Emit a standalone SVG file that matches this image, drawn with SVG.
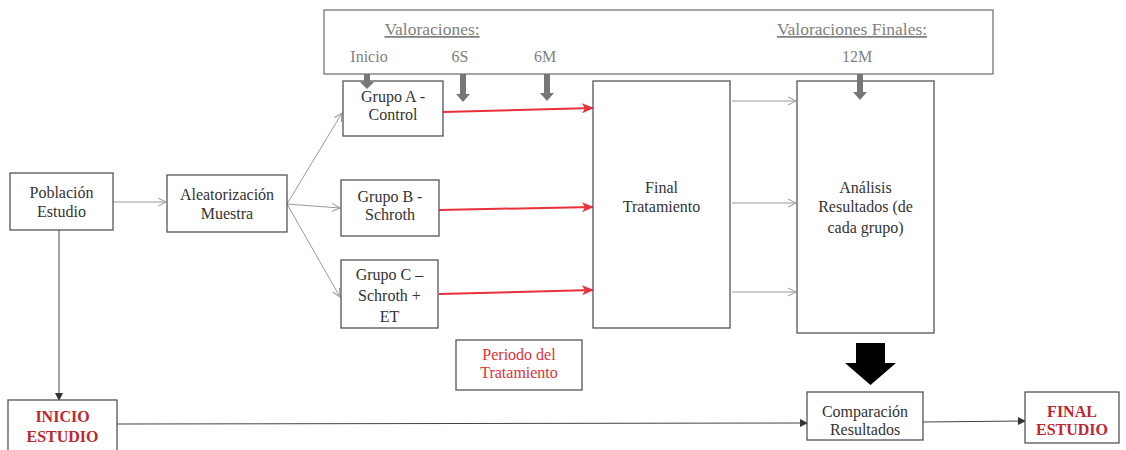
<svg xmlns="http://www.w3.org/2000/svg" width="1126" height="450" viewBox="0 0 1126 450" font-family="'Liberation Serif', 'Times New Roman', serif">
<style>
text{font-family:"Liberation Serif","Times New Roman",serif;font-size:16px;text-anchor:middle}
.box{fill:#fff;stroke:#555;stroke-width:1.3}
.tx{fill:#333}
.tg{fill:#808080}
.tu{font-size:17.5px;fill:#808080;text-decoration:underline}
.tr{fill:#e0303a}
.tb{fill:#c0262f;font-weight:bold}
.g{stroke:#999;stroke-width:1;fill:none}
.d{stroke:#444;stroke-width:1;fill:none}
.r{stroke:#e8313a;stroke-width:2;fill:none}
.ga{fill:#777}
</style>
<defs>
<marker id="mg" markerWidth="10" markerHeight="10" refX="9" refY="5" orient="auto" markerUnits="userSpaceOnUse"><path d="M1,1 L9,5 L1,9" fill="none" stroke="#999" stroke-width="1"/></marker>
<marker id="md" markerWidth="8" markerHeight="8" refX="7" refY="4" orient="auto" markerUnits="userSpaceOnUse"><path d="M0,0 L8,4 L0,8 z" fill="#333"/></marker>
<marker id="mr" markerWidth="12" markerHeight="10" refX="11" refY="5" orient="auto" markerUnits="userSpaceOnUse"><path d="M0,0 L12,5 L0,10 L3,5 z" fill="#e8313a"/></marker>
</defs>

<g id="valoraciones">
<rect class="box" x="324" y="10" width="669" height="64" style="stroke:#777"/>
<text class="tu" x="432" y="35">Valoraciones:</text>
<text class="tu" x="852" y="35">Valoraciones Finales:</text>
<text class="tg" x="369" y="62">Inicio</text>
<text class="tg" x="460" y="62">6S</text>
<text class="tg" x="545" y="62">6M</text>
<text class="tg" x="857" y="62">12M</text>
</g>

<g id="connectors">
<line class="g" x1="113" y1="202" x2="166" y2="202" marker-end="url(#mg)"/>
<line class="g" x1="287" y1="204" x2="342" y2="113" marker-end="url(#mg)"/>
<line class="g" x1="287" y1="204" x2="340" y2="208" marker-end="url(#mg)"/>
<line class="g" x1="287" y1="204" x2="340" y2="297" marker-end="url(#mg)"/>
<line class="r" x1="443" y1="112" x2="593" y2="108" marker-end="url(#mr)"/>
<line class="r" x1="439" y1="210" x2="593" y2="207" marker-end="url(#mr)"/>
<line class="r" x1="439" y1="294" x2="593" y2="290" marker-end="url(#mr)"/>
<line class="g" x1="732" y1="101" x2="796" y2="101" marker-end="url(#mg)"/>
<line class="g" x1="732" y1="203" x2="796" y2="203" marker-end="url(#mg)"/>
<line class="g" x1="732" y1="292" x2="796" y2="292" marker-end="url(#mg)"/>
<line class="d" x1="59" y1="230" x2="59" y2="400" marker-end="url(#md)"/>
<line class="d" x1="117" y1="424" x2="807" y2="423" marker-end="url(#md)"/>
<line class="d" x1="923" y1="422" x2="1025" y2="421" marker-end="url(#md)"/>
<path d="M856,343 h29 v20 h11 l-25.5,22 l-25.5,-22 h11 z" fill="#000"/>
</g>

<g id="poblacion">
<rect class="box" x="10" y="173" width="103" height="57"/>
<text class="tx" x="61.5" y="198">Población</text>
<text class="tx" x="61.5" y="217">Estudio</text>
</g>
<g id="aleatorizacion">
<rect class="box" x="167" y="175" width="120" height="57"/>
<text class="tx" x="227" y="200">Aleatorización</text>
<text class="tx" x="227" y="219">Muestra</text>
</g>
<g id="grupoA">
<rect class="box" x="343" y="81" width="100" height="55"/>
<text class="tx" x="393" y="102">Grupo A -</text>
<text class="tx" x="393" y="120">Control</text>
</g>
<g id="grupoB">
<rect class="box" x="341" y="180" width="98" height="56"/>
<text class="tx" x="390" y="202">Grupo B -</text>
<text class="tx" x="390" y="220">Schroth</text>
</g>
<g id="grupoC">
<rect class="box" x="341" y="260" width="97" height="68"/>
<text class="tx" x="389.5" y="280">Grupo C –</text>
<text class="tx" x="389.5" y="301">Schroth +</text>
<text class="tx" x="389.5" y="322">ET</text>
</g>
<g id="finalTratamiento">
<rect class="box" x="593" y="81" width="137" height="247"/>
<text class="tx" x="661.5" y="193">Final</text>
<text class="tx" x="661.5" y="212">Tratamiento</text>
</g>
<g id="analisis">
<rect class="box" x="797" y="81" width="137" height="252"/>
<text class="tx" x="865.5" y="193">Análisis</text>
<text class="tx" x="865.5" y="212">Resultados (de</text>
<text class="tx" x="865.5" y="233">cada grupo)</text>
</g>
<g id="periodo">
<rect class="box" x="456" y="340" width="126" height="50"/>
<text class="tr" x="519" y="360">Periodo del</text>
<text class="tr" x="519" y="378">Tratamiento</text>
</g>
<g id="inicio">
<rect class="box" x="8" y="400" width="109" height="52"/>
<text class="tb" x="62.5" y="422">INICIO</text>
<text class="tb" x="62.5" y="442">ESTUDIO</text>
</g>
<g id="comparacion">
<rect class="box" x="807" y="392" width="116" height="48"/>
<text class="tx" x="865" y="417">Comparación</text>
<text class="tx" x="865" y="435">Resultados</text>
</g>
<g id="final">
<rect class="box" x="1025" y="392" width="94" height="51"/>
<text class="tb" x="1072" y="417">FINAL</text>
<text class="tb" x="1072" y="435">ESTUDIO</text>
</g>

<g id="valoracion-arrows">
<path class="ga" d="M364,74 h6 v8 h4 l-7,7 l-7,-7 h4 z"/>
<path class="ga" d="M460,74 h6 v20 h4 l-7,8 l-7,-8 h4 z"/>
<path class="ga" d="M544,74 h6 v19 h4 l-7,8 l-7,-8 h4 z"/>
<path class="ga" d="M857,74 h6 v18 h4 l-7,8 l-7,-8 h4 z"/>
</g>
</svg>
